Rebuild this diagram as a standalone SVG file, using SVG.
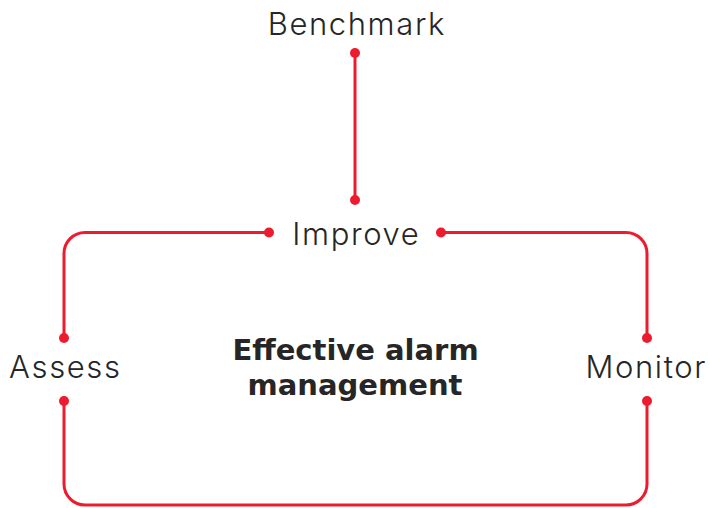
<svg xmlns="http://www.w3.org/2000/svg" width="710" height="508" viewBox="0 0 710 508">
<style>
.lbl{font-family:Inter,"Liberation Sans",sans-serif;font-weight:300;font-size:31px;letter-spacing:1.6px;fill:#262626;text-anchor:middle}
.ttl{font-family:"DejaVu Sans","Liberation Sans",sans-serif;font-weight:700;font-size:29px;fill:#262626;text-anchor:middle}
.ln{fill:none;stroke:#ec1c2e;stroke-width:3}
.dot{fill:#ec1c2e}
</style>
<rect width="710" height="508" fill="#ffffff"/>
<g id="connectors">
<path class="ln" d="M355 53 V200"/>
<path class="ln" d="M269 232.5 H85 A21 21 0 0 0 64 253.5 V338"/>
<path class="ln" d="M441 232.5 H626 A21 21 0 0 1 647 253.5 V338"/>
<path class="ln" d="M64 401 V484 A21 21 0 0 0 85 505 H626 A21 21 0 0 0 647 484 V401"/>
<circle class="dot" cx="355" cy="53" r="5"/>
<circle class="dot" cx="355" cy="200" r="5"/>
<circle class="dot" cx="269" cy="232.5" r="5"/>
<circle class="dot" cx="441" cy="232.5" r="5"/>
<circle class="dot" cx="64" cy="338" r="5"/>
<circle class="dot" cx="64" cy="401" r="5"/>
<circle class="dot" cx="647" cy="338" r="5"/>
<circle class="dot" cx="647" cy="401" r="5"/>
</g>
<g id="benchmark"><text class="lbl" x="356.8" y="35">Benchmark</text></g>
<g id="improve"><text class="lbl" x="356.3" y="245">Improve</text></g>
<g id="assess"><text class="lbl" x="65.3" y="378">Assess</text></g>
<g id="monitor"><text class="lbl" x="646.3" y="378">Monitor</text></g>
<g id="center"><text class="ttl" x="355.5" y="360">Effective alarm</text><text class="ttl" x="355" y="395">management</text></g>
</svg>
